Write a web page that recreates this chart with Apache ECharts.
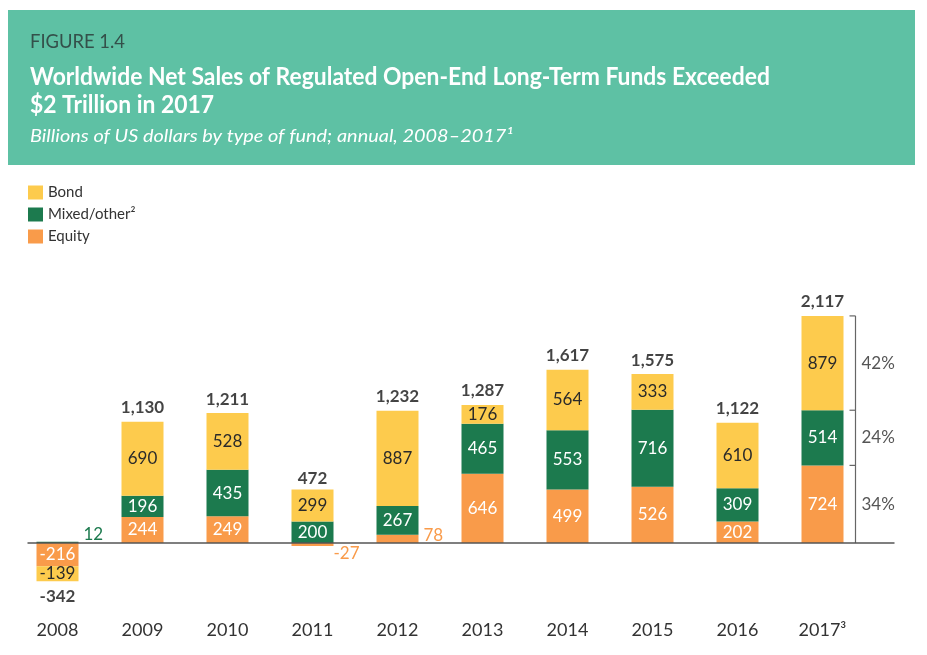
<!DOCTYPE html>
<html>
<head>
<meta charset="utf-8">
<script src="https://cdn.jsdelivr.net/npm/echarts@6/dist/echarts.min.js"></script>
<style>
html,body{margin:0;padding:0;background:#fff;}
#chart{width:927px;height:655px;}
</style>
</head>
<body>
<div id="chart"></div>
<script>
const categories = ['2008','2009','2010','2011','2012','2013','2014','2015','2016','2017³'];
const equity = [-216, 244, 249, -27, 78, 646, 499, 526, 202, 724];
const mixed  = [12, 196, 435, 200, 267, 465, 553, 716, 309, 514];
const bond   = [-139, 690, 528, 299, 887, 176, 564, 333, 610, 879];
const totals = [-342, 1130, 1211, 472, 1232, 1287, 1617, 1575, 1122, 2117];

const figLabel = 'FIGURE 1.4';
const titleLines = ['Worldwide Net Sales of Regulated Open-End Long-Term Funds Exceeded', '$2 Trillion in 2017'];
const subtitle = 'Billions of US dollars by type of fund; annual, 2008–2017¹';

const C_BOND = '#FDCB4D', C_MIXED = '#1C7A4E', C_EQUITY = '#F99B4A';
const NUM_FONT = 'Lato, "Open Sans", sans-serif';
const HEAD_FONT = 'Lato';

const chart = echarts.init(document.getElementById('chart'), null, {renderer:'canvas'});

function lbl(color){
  return {show:true, position:'inside', color:color, fontSize:17, fontFamily:NUM_FONT};
}

const equityData = equity.map((v,i)=>{
  if (i===3) return {value:v, label:{show:true, position:'right', color:C_EQUITY, offset:[-5,9]}};
  if (i===4) return {value:v, label:{show:true, position:'right', color:C_EQUITY, offset:[0,-3]}};
  return v;
});
const mixedData = mixed.map((v,i)=>{
  if (i===0) return {value:v, label:{show:true, position:'right', color:C_MIXED, offset:[0,-8]}};
  return v;
});

const option = {
  animation:false,
  legend:{
    data:['Bond','Mixed/other²','Equity'],
    orient:'vertical', left:23, top:180, itemWidth:15, itemHeight:14, itemGap:7,
    icon:'rect',
    textStyle:{fontFamily:NUM_FONT, fontSize:15, color:'#333'}
  },
  grid:{left:15, right:62, top:307, height:279, containLabel:false},
  xAxis:{
    type:'category', data:categories,
    axisLine:{show:false, onZero:false}, axisTick:{show:false},
    axisLabel:{color:'#333', fontSize:18, fontFamily:NUM_FONT, margin:35}
  },
  yAxis:{type:'value', min:-400, max:2200, show:false, splitLine:{show:false}},
  series:[
    {name:'Equity', type:'bar', stack:'t', barWidth:42, data:equityData, itemStyle:{color:C_EQUITY}, label:lbl('#ffffff')},
    {name:'Mixed/other²', type:'bar', stack:'t', data:mixedData, itemStyle:{color:C_MIXED}, label:lbl('#ffffff')},
    {name:'Bond', type:'bar', stack:'t', data:bond, itemStyle:{color:C_BOND}, label:lbl('#2a2a2a')},
    {name:'Total', type:'scatter', symbolSize:1, itemStyle:{color:'transparent'},
      data:totals.map(v=>({value:v, label:{position: v<0?'bottom':'top', distance: v<0?8:5}})),
      label:{show:true, fontSize:17, fontWeight:'bold', fontFamily:NUM_FONT, color:'#141414',
        formatter:p=>p.value.toLocaleString('en-US')}}
  ]
};
chart.setOption(option);

// condensed header text: horizontal scale so the lines keep the reference widths
const mctx = document.createElement('canvas').getContext('2d');
function fitScale(text, font, target){
  mctx.font = font;
  return target / mctx.measureText(text).width;
}
const sFig = fitScale(figLabel, '19px Lato', 95);
const sTitle = fitScale(titleLines[0], 'bold 24px Lato', 740);
const sSub = fitScale(subtitle, 'italic 18px Lato', 483);

// baseline and percentage bracket built from the chart's own scales
const last = categories.length-1;
const p0 = chart.convertToPixel({seriesIndex:0}, [0, 0]);
const pl = chart.convertToPixel({seriesIndex:0}, [last, 0]);
const eq = equity[last], mx = mixed[last], bd = bond[last];
const tot = eq+mx+bd;
const yE = chart.convertToPixel({seriesIndex:0}, [last, eq])[1];
const yM = chart.convertToPixel({seriesIndex:0}, [last, eq+mx])[1];
const yT = chart.convertToPixel({seriesIndex:0}, [last, tot])[1];
const y0 = p0[1];
const bx = pl[0] + 33;
const pct = v => Math.round(v/tot*100)+'%';
const pctStyle = {fill:'#555', fontSize:17, fontFamily:NUM_FONT, textVerticalAlign:'middle', textAlign:'left'};

chart.setOption({
  graphic:[
    {id:'hdr', type:'rect', left:8, top:10, shape:{width:907, height:155}, style:{fill:'#5EC1A4'}, z:-10},
    {id:'fig', type:'text', x:30, y:42, scaleX:sFig, z:5,
      style:{text:figLabel, fontSize:19, fontFamily:HEAD_FONT, fill:'#34504a', textVerticalAlign:'middle'}},
    {id:'tl1', type:'text', x:30, y:77, scaleX:sTitle, z:5,
      style:{text:titleLines[0], fontSize:24, fontWeight:'bold', fontFamily:HEAD_FONT, fill:'#fff', textVerticalAlign:'middle'}},
    {id:'tl2', type:'text', x:30, y:105, scaleX:sTitle, z:5,
      style:{text:titleLines[1], fontSize:24, fontWeight:'bold', fontFamily:HEAD_FONT, fill:'#fff', textVerticalAlign:'middle'}},
    {id:'sub', type:'text', x:30, y:136, scaleX:sSub, z:5,
      style:{text:subtitle, fontSize:18, fontStyle:'italic', fontFamily:HEAD_FONT, fill:'#fff', textVerticalAlign:'middle'}},
    {id:'base', type:'line', shape:{x1:p0[0]-30, y1:y0, x2:bx+39, y2:y0}, style:{stroke:'#555', lineWidth:1.5}, z:10},
    {id:'bv', type:'line', shape:{x1:bx, y1:yT, x2:bx, y2:y0}, style:{stroke:'#666', lineWidth:1.2}},
    {id:'bt1', type:'line', shape:{x1:bx-6, y1:yT, x2:bx, y2:yT}, style:{stroke:'#666', lineWidth:1.2}},
    {id:'bt2', type:'line', shape:{x1:bx-6, y1:yM, x2:bx, y2:yM}, style:{stroke:'#666', lineWidth:1.2}},
    {id:'bt3', type:'line', shape:{x1:bx-6, y1:yE, x2:bx, y2:yE}, style:{stroke:'#666', lineWidth:1.2}},
    {id:'t1', type:'text', x:bx+6, y:(yT+yM)/2, style:Object.assign({text:pct(bd)}, pctStyle)},
    {id:'t2', type:'text', x:bx+6, y:(yM+yE)/2, style:Object.assign({text:pct(mx)}, pctStyle)},
    {id:'t3', type:'text', x:bx+6, y:(yE+y0)/2, style:Object.assign({text:pct(eq)}, pctStyle)}
  ]
});
</script>
</body>
</html>
